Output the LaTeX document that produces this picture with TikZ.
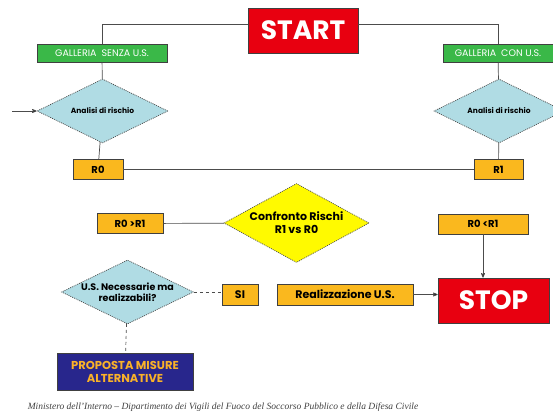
\documentclass[tikz,border=0pt]{standalone}
\usepackage{fontspec}
\setsansfont{Poppins}
\setmainfont{Liberation Serif}
\usepackage{tikz}
\usetikzlibrary{arrows,shapes.geometric}

\definecolor{stopred}{RGB}{232,0,16}
\definecolor{tunnelgreen}{RGB}{58,184,72}
\definecolor{riskorange}{RGB}{250,184,30}
\definecolor{checkblue}{RGB}{176,220,228}
\definecolor{cmpyellow}{RGB}{255,250,0}
\definecolor{propblue}{RGB}{40,38,140}
\definecolor{proptext}{RGB}{250,178,40}

\begin{document}
\begin{tikzpicture}[x=1pt,y=-1pt,>=stealth',line width=0.7pt,
	box/.style={rectangle,draw=black!75,inner sep=0pt,font=\sffamily\bfseries},
	end node/.style={box,fill=stopred,text=white,minimum width=110pt,minimum height=45pt,font=\sffamily\bfseries\fontsize{26.5}{28}\selectfont},
	tunnel node/.style={box,fill=tunnelgreen,text=white,minimum height=18pt,font=\sffamily\fontsize{9.5}{11}\selectfont},
	risk node/.style={box,fill=riskorange,minimum height=20pt,font=\sffamily\bfseries\fontsize{10}{12}\selectfont},
	check node/.style={diamond,aspect=2.1,draw=black!70,dash pattern=on 1pt off 1pt,fill=checkblue,inner sep=0pt,align=center},
	link/.style={draw=black!70}]
	\useasboundingbox (0,0) rectangle (553,418);

	\node[end node] (start) at (303,30.5) {START};
	\node[tunnel node,minimum width=130pt] (senza) at (102,53) {GALLERIA\ \ SENZA U.S.};
	\node[tunnel node,minimum width=110pt] (con) at (498,53) {GALLERIA\ \ CON U.S.};
	\node[check node,minimum width=131pt,minimum height=64pt,font=\sffamily\bfseries\fontsize{7.5}{9}\selectfont] (anal0) at (102.5,111) {Analisi di rischio};
	\node[check node,minimum width=130pt,minimum height=64pt,font=\sffamily\bfseries\fontsize{7.5}{9}\selectfont] (anal1) at (499,111) {Analisi di rischio};
	\node[risk node,minimum width=50pt] (r0) at (98,169.5) {R0};
	\node[risk node,minimum width=49pt] (r1) at (498.5,169.5) {R1};
	\node[risk node,minimum width=66pt] (gt) at (130,223.5) {R0 >R1};
	\node[diamond,aspect=1.85,draw=black!70,dash pattern=on 1pt off 1pt,fill=cmpyellow,inner sep=0pt,align=center,minimum width=145pt,minimum height=79pt,font=\sffamily\bfseries\fontsize{11}{13}\selectfont] (cmp) at (296.5,223) {Confronto Rischi\\R1 vs R0};
	\node[risk node,minimum width=90pt] (lt) at (483,224) {R0 <R1};
	\node[end node,minimum width=111pt] (stop) at (493.5,300.5) {STOP};
	\node[risk node,minimum width=136pt,minimum height=21pt,font=\sffamily\bfseries\fontsize{11}{13}\selectfont] (real) at (345,294.5) {Realizzazione U.S.};
	\node[risk node,minimum width=36pt,minimum height=21pt,font=\sffamily\bfseries\fontsize{11}{13}\selectfont] (si) at (240,294.5) {SI};
	\node[check node,minimum width=131pt,minimum height=64pt,font=\sffamily\bfseries\fontsize{9.5}{11}\selectfont] (nec) at (127.5,292) {U.S. Necessarie ma\\realizzabili?};
	\node[box,fill=propblue,text=proptext,align=center,minimum width=136pt,minimum height=37pt,font=\sffamily\bfseries\fontsize{11.5}{13}\selectfont] (prop) at (125,371.5) {PROPOSTA MISURE\\ALTERNATIVE};
	\node[font=\rmfamily\itshape\fontsize{9.5}{11}\selectfont,text=black!75] (foot) at (223,407) {Ministero dell'Interno -- Dipartimento dei Vigili del Fuoco del Soccorso Pubblico e della Difesa Civile};
	\coordinate (in) at (12,111);

	\path[link]
		([yshift=6.5pt]start.west) edge ([yshift=6.5pt]start.west -| senza.north) ([yshift=6.5pt]start.west -| senza.north) edge (senza.north)
		([yshift=6.5pt]start.east) edge ([yshift=6.5pt]start.east -| con.north) ([yshift=6.5pt]start.east -| con.north) edge (con.north)
		(senza) edge (anal0)
		(con) edge (anal1)
		(anal0) edge (r0)
		(anal1) edge (r1)
		(r0) edge (r1)
		(in) edge[->] (anal0)
		(gt) edge (cmp)
		(lt.south) edge[->] (lt.south |- stop.north)
		(real.east) edge[->] (real.east -| stop.west)
		(nec.east) edge[dashed] (nec.east -| si.west)
		(nec) edge[dashed] (prop);
\end{tikzpicture}
\end{document}
